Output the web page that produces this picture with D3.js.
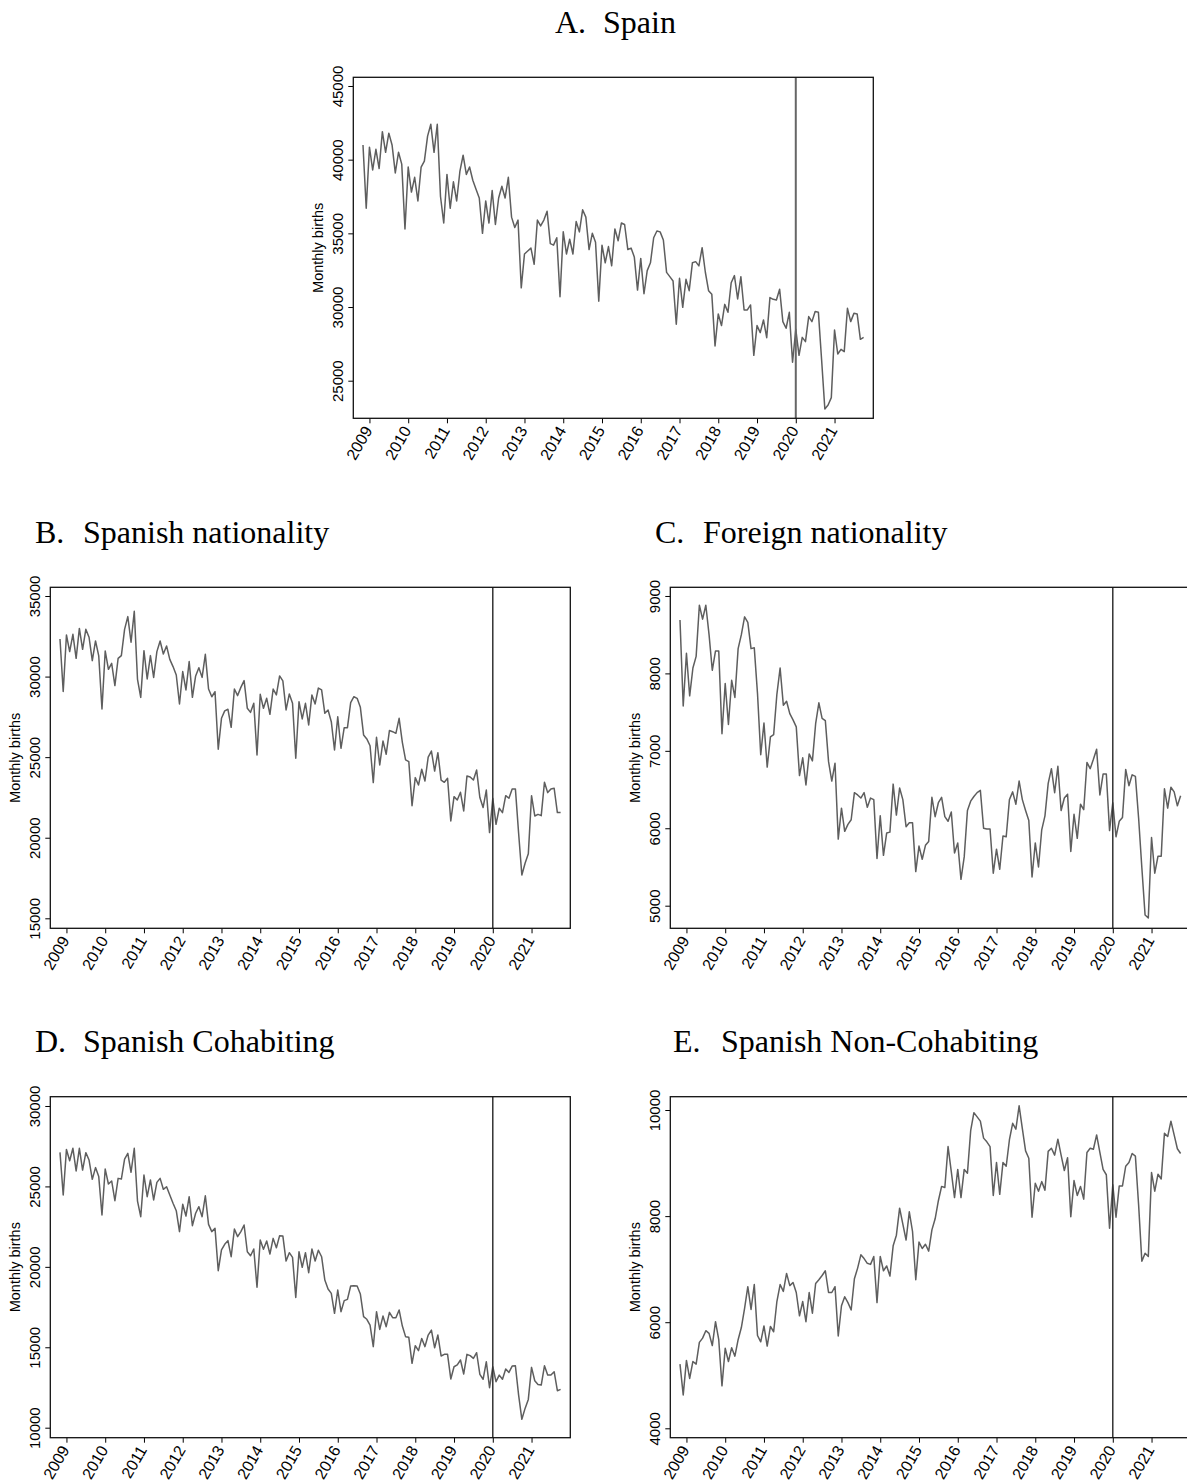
<!DOCTYPE html>
<html><head><meta charset="utf-8">
<script src="https://cdn.jsdelivr.net/npm/d3@7"></script>
<style>body{margin:0;background:#fff} svg{display:block}</style>
</head><body>
<svg id="chart" width="1187" height="1481"></svg>
<script>
// ---- data: monthly births, first observation Nov 2008, 156 months ----
const startYear = 2008, startMonth = 11;
const yearTicks = [2009,2010,2011,2012,2013,2014,2015,2016,2017,2018,2019,2020,2021];
const markerYear = 2020;

const spain = [
41000,36700,40850,39300,40700,39400,41900,40500,41800,41000,
39100,40500,39700,35300,39500,37800,38800,37200,39500,39900,
41600,42400,40500,42400,37500,35700,39000,36700,38500,37200,
39200,40300,39000,39500,38600,38000,37400,35000,37200,35700,
37900,35600,37400,38200,37400,38800,36100,35400,35900,31300,
33600,33800,34000,32900,35900,35500,35900,36500,34300,34200,
34700,30700,35100,33600,34600,33600,35800,35100,36600,36100,
33900,35000,34400,30400,34200,33000,34100,32800,35300,34500,
35700,35600,33900,34000,33400,31150,33300,30900,32470,33000,
34700,35160,35100,34550,32350,32060,31770,28830,31950,29980,
31880,31110,33010,33080,32790,34030,32360,31110,30860,27360,
29530,28740,30180,29640,31650,32130,30550,32060,29800,29800,
30140,26720,28740,28260,29120,27920,30640,30520,30480,31200,
29010,28560,29640,26250,28490,26720,27940,27650,29350,29010,
29690,29640,26400,23080,23350,23850,28440,26810,27130,26970,
29910,29010,29570,29530,27810,27940];

const spanishNationality = [
32330,29070,32580,31550,32620,31130,32990,31690,32930,32440,
30990,32210,31280,27990,31590,30450,30820,29440,31130,31300,
32930,33720,32130,34050,29830,28710,31610,29850,31300,29950,
31550,32210,31400,31900,31070,30620,30100,28300,30310,29170,
30930,28710,30040,30550,29950,31380,29230,28750,29060,25490,
27410,27870,27970,26850,29230,28820,29330,29750,28030,27780,
28340,25140,28900,28030,28650,27660,29230,28860,30040,29730,
27930,28920,28340,24930,28440,27370,28340,27000,28860,28300,
29290,29170,27720,27930,27200,25450,27510,25550,26830,26830,
28380,28750,28650,28090,26380,26130,25710,23420,26230,24520,
26000,25180,26650,26580,26480,27410,25920,24830,24720,21990,
23730,23270,24250,23520,25000,25380,24140,25280,23580,23440,
23690,21040,22550,22340,22820,21660,23830,23770,23580,24200,
22490,21870,22960,20320,22450,20830,21830,21560,22610,22450,
23030,23030,20280,17690,18420,19000,22610,21350,21450,21370,
23440,22800,23030,23070,21560,21560];

const foreignNationality = [
8690,7580,8260,7710,8070,8220,8880,8700,8880,8500,
8040,8290,8290,7220,7870,7340,7910,7690,8320,8500,
8730,8660,8320,8330,7740,6950,7360,6790,7180,7210,
7730,8070,7590,7640,7480,7400,7310,6680,6910,6560,
6960,6870,7350,7620,7420,7390,6860,6610,6840,5860,
6260,5960,6050,6110,6460,6430,6390,6460,6270,6390,
6370,5610,6160,5650,5940,5950,6570,6170,6520,6370,
6020,6070,6070,5440,5770,5600,5780,5830,6400,6150,
6330,6400,6150,6090,6210,5680,5810,5340,5630,6230,
6350,6410,6460,6490,6000,5990,5990,5420,5730,5470,
5900,5890,6370,6470,6310,6610,6370,6230,6100,5370,
5810,5500,5980,6160,6580,6770,6460,6800,6230,6390,
6440,5700,6180,5870,6310,6240,6850,6770,6890,7020,
6430,6700,6700,5970,6330,5890,6090,6140,6760,6550,
6690,6670,6130,5490,4880,4840,5880,5420,5640,5640,
6510,6260,6530,6470,6290,6420];

const spanishCohabiting = [
27120,24470,27300,26600,27370,25960,27370,26020,27100,26640,
25440,26170,25610,23220,26080,25150,25340,24110,25500,25460,
26700,27060,25880,27370,24090,23120,25710,24360,25400,24160,
25250,25500,24820,24980,24470,23950,23490,22190,23890,23160,
24360,22560,23330,23740,23120,24420,22640,22190,22390,19760,
21050,21400,21630,20630,22350,21880,22190,22600,20940,20690,
21110,18730,21670,21090,21610,20800,21770,21190,21940,21920,
20360,20880,20590,18100,20940,19970,20880,19640,21110,20360,
21030,20630,19180,18620,18350,17110,18560,17210,17900,17980,
18810,18830,18810,18310,16900,16740,16380,15040,17210,16110,
16940,16280,17170,16840,16840,17320,16320,15660,15620,14000,
15100,14790,15550,15040,15760,16070,14970,15760,14460,14560,
14560,13030,13790,13900,14210,13340,14560,14480,14310,14660,
13320,13010,14100,12490,13790,12860,13270,13010,13650,13440,
13830,13850,12030,10520,11200,11760,13750,12920,12690,12650,
13850,13270,13270,13480,12300,12380];

const spanishNonCohabiting = [
5210,4630,5280,4940,5260,5210,5620,5700,5840,5790,
5560,6010,5670,4800,5510,5260,5520,5360,5670,5900,
6260,6670,6240,6710,5750,5630,5930,5550,5920,5820,
6390,6710,6580,6920,6690,6750,6560,6120,6390,6010,
6560,6170,6730,6800,6880,6970,6560,6560,6670,5740,
6310,6480,6370,6230,6820,7020,7270,7200,7110,7090,
7240,6370,7240,6970,7060,6870,7440,7640,8150,7850,
7550,8080,7710,6800,7510,7390,7470,7340,7740,7950,
8290,8560,8540,9310,8840,8350,8880,8350,8880,8810,
9610,9950,9870,9790,9470,9400,9310,8390,9010,8410,
9010,8940,9440,9750,9640,10080,9650,9230,9090,7980,
8620,8470,8650,8490,9220,9280,9150,9450,9150,8860,
9100,7990,8670,8390,8560,8320,9200,9280,9260,9530,
9200,8880,8780,7770,8590,7980,8570,8570,8940,9010,
9180,9130,8210,7150,7300,7240,8820,8470,8790,8700,
9560,9500,9790,9530,9270,9180];

const panelLetters = ["A.","B.","C.","D.","E."];
const panelNames = ["Spain","Spanish nationality","Foreign nationality","Spanish Cohabiting","Spanish Non-Cohabiting"];
const panelSeries = [spain, spanishNationality, foreignNationality, spanishCohabiting, spanishNonCohabiting];
const panelYTicks = [
  [25000,30000,35000,40000,45000],
  [15000,20000,25000,30000,35000],
  [5000,6000,7000,8000,9000],
  [10000,15000,20000,25000,30000],
  [4000,6000,8000,10000]
];
const panelYDomains = [[22448,45590],[14380,35540],[4708,9112],[9378,30578],[3823,10251]];

// ---- layout ----
const layout = [
  {left:353.3, top:77.3, titleX:555, titleY:33},
  {left:50.3,  top:587.3, titleX:35, titleY:543},
  {left:670.3, top:587.3, titleX:655, titleY:543},
  {left:50.3,  top:1096.7, titleX:35, titleY:1052},
  {left:670.3, top:1096.7, titleX:673, titleY:1052}
];
const W = 520, H = 341;
const svg = d3.select("#chart");
const toTime = i => startYear + (startMonth - 1 + i) / 12;
const n = spain.length;
const tFirst = toTime(0), tLast = toTime(n - 1);

panelSeries.forEach((vals, p) => {
  const L = layout[p];
  const g = svg.append("g").attr("transform", `translate(${L.left},${L.top})`);
  const x = d3.scaleLinear().domain([tFirst - 0.25, tLast + 0.25]).range([0, W]);
  const y = d3.scaleLinear().domain(panelYDomains[p]).range([H, 0]);

  // title
  svg.append("text").attr("x", L.titleX).attr("y", L.titleY)
    .attr("font-family", "'Liberation Serif','Times New Roman',serif").attr("font-size", 32)
    .attr("fill", "#000").text(panelLetters[p]);
  svg.append("text").attr("x", L.titleX + 48).attr("y", L.titleY)
    .attr("font-family", "'Liberation Serif','Times New Roman',serif").attr("font-size", 32)
    .attr("fill", "#000").text(panelNames[p]);

  // y axis
  const yAxis = g.append("g").call(d3.axisLeft(y).tickValues(panelYTicks[p]).tickSize(5).tickFormat(d3.format("d")));
  yAxis.select(".domain").remove();
  yAxis.selectAll(".tick line").attr("stroke", "#000");
  yAxis.selectAll(".tick text")
    .attr("font-family", "'Liberation Sans',Arial,sans-serif").attr("font-size", 15).attr("fill", "#000")
    .attr("x", null).attr("dy", null)
    .attr("text-anchor", "middle")
    .attr("transform", "translate(-10,0) rotate(-90)");
  g.append("text")
    .attr("transform", `translate(-30,${H/2}) rotate(-90)`)
    .attr("text-anchor", "middle")
    .attr("font-family", "'Liberation Sans',Arial,sans-serif").attr("font-size", 14.5).attr("fill", "#000")
    .text("Monthly births");

  // x axis
  const xAxis = g.append("g").attr("transform", `translate(0,${H})`)
    .call(d3.axisBottom(x).tickValues(yearTicks).tickSize(5).tickFormat(d3.format("d")));
  xAxis.select(".domain").remove();
  xAxis.selectAll(".tick line").attr("stroke", "#000");
  xAxis.selectAll(".tick text")
    .attr("font-family", "'Liberation Sans',Arial,sans-serif").attr("font-size", 16).attr("fill", "#000")
    .attr("y", null).attr("dy", null)
    .attr("text-anchor", "end")
    .attr("transform", "translate(3,12) rotate(-60)");

  // data line
  const line = d3.line().x((d, i) => x(toTime(i))).y(d => y(d));
  g.append("path").datum(vals).attr("d", line)
    .attr("fill", "none").attr("stroke", "#5e5e5e").attr("stroke-width", 1.5).attr("stroke-linejoin", "round");

  // marker line
  g.append("line").attr("x1", x(markerYear)).attr("x2", x(markerYear)).attr("y1", 0).attr("y2", H)
    .attr("stroke", p === 0 ? "#666" : "#333").attr("stroke-width", p === 0 ? 2 : 1.5);

  // frame
  g.append("rect").attr("x", 0).attr("y", 0).attr("width", W).attr("height", H)
    .attr("fill", "none").attr("stroke", "#111").attr("stroke-width", 1.3);
});
</script>
</body></html>
